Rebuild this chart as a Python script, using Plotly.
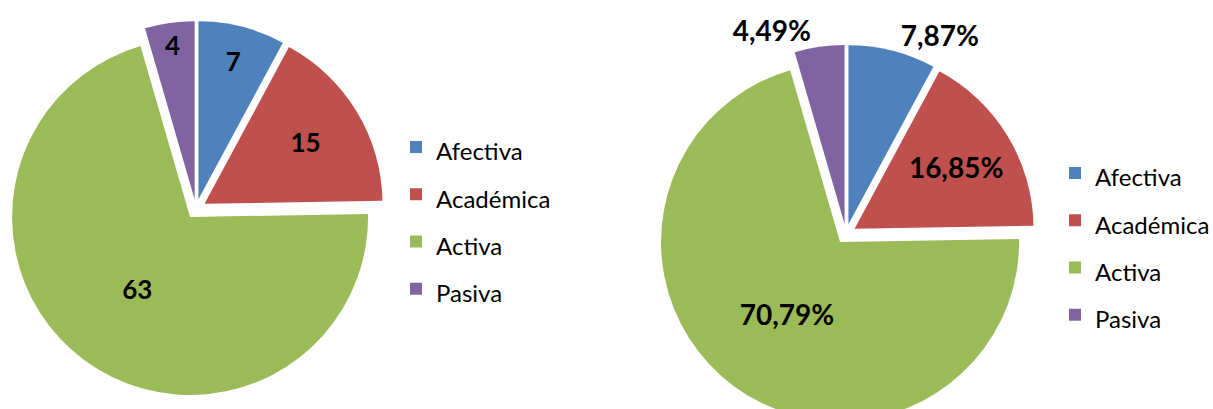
import plotly.graph_objects as go

# ---- data ----
categories = ["Afectiva", "Académica", "Activa", "Pasiva"]
counts = [7, 15, 63, 4]
colors = ["#4F81BD", "#C0504D", "#9BBB59", "#8064A2"]
right_text_pos = ["outside", "inside", "inside", "outside"]

W, H = 1213, 440
PULL = 0.056
FONT = "Lato"


def dom(cx, cy, r):
    half = r * (1 + PULL)
    return dict(x=[(cx - half) / W, (cx + half) / W],
                y=[(H - (cy + half)) / H, (H - (cy - half)) / H])


legend_labels = ["<span style='font-size:24px'>%s</span>" % c for c in categories]

fig = go.Figure()
fig.add_trace(go.Pie(
    labels=legend_labels, values=counts, sort=False, direction="clockwise",
    rotation=0, pull=[PULL] * 4,
    marker=dict(colors=colors, line=dict(width=0)),
    textinfo="value", textposition="inside", insidetextorientation="horizontal",
    textfont=dict(family=FONT, size=26, color="black", weight="bold"),
    domain=dom(196, 209, 178), legend="legend", legendgroup="left",
    hoverinfo="label+value",
))
fig.add_trace(go.Pie(
    labels=legend_labels, values=counts, sort=False, direction="clockwise",
    rotation=0, pull=[PULL] * 4,
    marker=dict(colors=colors, line=dict(width=0)),
    texttemplate="%{percent:.2%}", textposition=right_text_pos,
    insidetextorientation="horizontal",
    textfont=dict(family=FONT, size=28, color="black", weight="bold"),
    domain=dom(846, 234, 179), legend="legend2", legendgroup="right",
    hoverinfo="label+percent",
))

legend_common = dict(font=dict(family=FONT, size=34, color="black"),
                     bgcolor="rgba(0,0,0,0)", borderwidth=0,
                     xanchor="left", yanchor="middle", traceorder="normal")
fig.update_layout(
    width=W, height=H,
    margin=dict(l=0, r=0, t=0, b=0, autoexpand=False),
    paper_bgcolor="white", plot_bgcolor="white",
    separators=",.",
    showlegend=True,
    legend=dict(x=396 / W, y=1 - 218 / H, **legend_common),
    legend2=dict(x=1055 / W, y=1 - 244 / H, **legend_common),
)

fig.write_html(
    "out.html",
    config={"displayModeBar": False},
    post_script="document.body.style.margin='0';"
                "document.documentElement.style.overflow='hidden';"
                "document.body.style.overflow='hidden';",
)
